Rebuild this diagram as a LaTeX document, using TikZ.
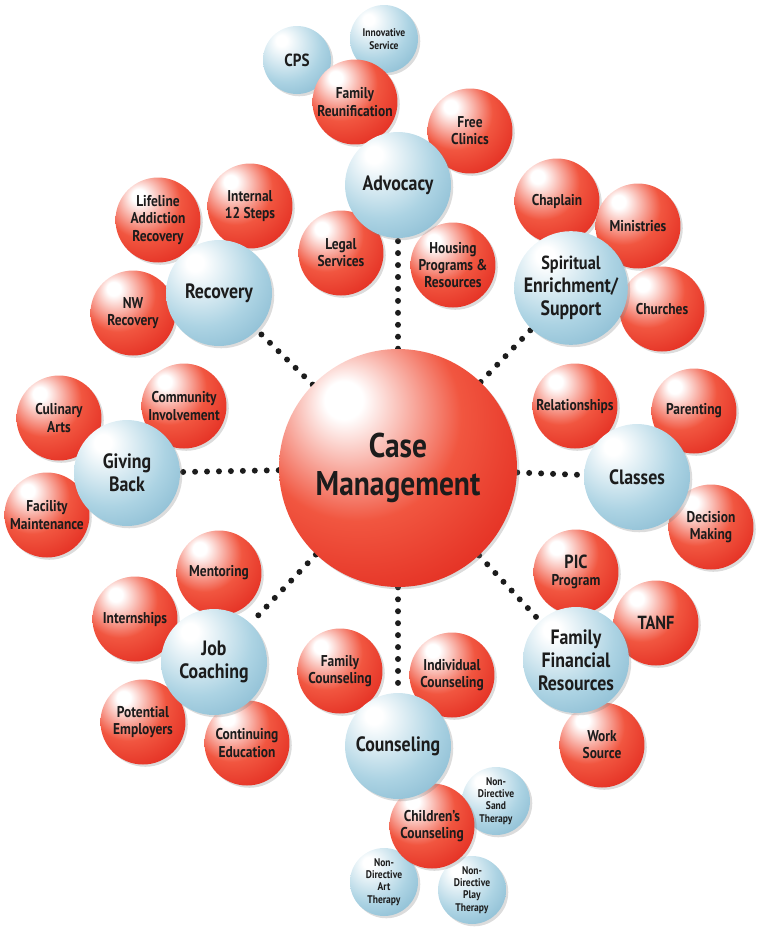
\documentclass[tikz,border=0pt]{standalone}
\usepackage{fontspec}
\newfontfamily\ballfont{PT Sans}[FakeStretch=0.86]
\usetikzlibrary{shadows}
\definecolor{redrim}{RGB}{222,30,22}
\definecolor{redmid}{RGB}{241,86,64}
\definecolor{bluerim}{RGB}{112,170,198}
\definecolor{bluemid}{RGB}{172,211,227}
\definecolor{ink}{RGB}{28,28,28}
\pgfdeclareradialshading{redsphere}{\pgfpoint{-12bp}{15bp}}{%
  color(0bp)=(white); color(4bp)=(white); color(22bp)=(redmid);
  color(44bp)=(redrim); color(80bp)=(redrim)}
\pgfdeclareradialshading{bluesphere}{\pgfpoint{-12bp}{15bp}}{%
  color(0bp)=(white); color(4bp)=(white); color(26bp)=(bluemid);
  color(50bp)=(bluerim); color(80bp)=(bluerim)}
\pgfdeclarelayer{back}
\pgfsetlayers{back,main}

\begin{document}
\begin{tikzpicture}[x = 0.02cm, y = -0.02cm,
		ball/.style = {circle, inner sep = 0pt, align = center, text = ink,
			drop shadow = {opacity = 0.28, shadow xshift = 1.3pt, shadow yshift = -1.3pt}},
		core/.style = {ball, shading = redsphere, minimum size = 4.76cm,
			font = \ballfont\bfseries\fontsize{19.5}{21.5}\selectfont},
		hub/.style = {ball, shading = bluesphere, minimum size = 2.12cm,
			font = \ballfont\bfseries\fontsize{11.8}{13.2}\selectfont},
		leaf/.style = {ball, shading = redsphere, minimum size = 1.7cm,
			font = \ballfont\bfseries\fontsize{8.9}{9.8}\selectfont},
		twig/.style = {ball, shading = bluesphere, minimum size = 1.36cm,
			font = \ballfont\bfseries\fontsize{6.3}{7}\selectfont},
		link/.style = {ink, line width = 3.4pt, line cap = round, dash pattern = on 0pt off 6.8pt}]
		\useasboundingbox (0, 0) rectangle (768, 941);
		%%%%%%%%%%%%% small blue
		\node [twig] (cps) at (297, 60) {\fontsize{10}{11}\selectfont CPS};
		\node [twig] (innov) at (384, 39) {Innovative\\Service};
		\node [twig] (sand) at (496, 801) {Non-\\Directive\\Sand\\Therapy};
		\node [twig] (art) at (384, 882) {Non-\\Directive\\Art\\Therapy};
		\node [twig] (play) at (472, 890) {Non-\\Directive\\Play\\Therapy};
		%%%%%%%%%%%%% red
		\node [leaf] (reunif) at (355, 102) {Family\\Reunification};
		\node [leaf] (clinics) at (470, 131) {Free\\Clinics};
		\node [leaf] (legal) at (341, 253) {Legal\\Services};
		\node [leaf] (housing) at (453, 265) {Housing\\Programs \&\\Resources};
		\node [leaf] (lifeline) at (158, 220) {Lifeline\\Addiction\\Recovery};
		\node [leaf] (steps) at (250, 206) {Internal\\12 Steps};
		\node [leaf] (nw) at (133, 313) {NW\\Recovery};
		\node [leaf] (chaplain) at (557, 201) {Chaplain};
		\node [leaf] (ministries) at (638, 226) {Ministries};
		\node [leaf] (churches) at (662, 309) {Churches};
		\node [leaf] (culinary) at (59, 418) {Culinary\\Arts};
		\node [leaf] (community) at (184, 406) {Community\\Involvement};
		\node [leaf] (facility) at (47, 515) {Facility\\Maintenance};
		\node [leaf] (relation) at (575, 406) {Relationships};
		\node [leaf] (parenting) at (694, 411) {Parenting};
		\node [leaf] (decision) at (711, 527) {Decision\\Making};
		\node [leaf] (mentoring) at (219, 573) {Mentoring};
		\node [leaf] (intern) at (135, 619) {Internships};
		\node [leaf] (employers) at (143, 722) {Potential\\Employers};
		\node [leaf] (education) at (247, 743) {Continuing\\Education};
		\node [leaf] (pic) at (576, 572) {\fontsize{10.8}{11.8}\selectfont PIC\\Program};
		\node [leaf] (tanf) at (656, 623) {\fontsize{10.8}{11.8}\selectfont TANF};
		\node [leaf] (work) at (602, 745) {Work\\Source};
		\node [leaf] (famcoun) at (340, 671) {Family\\Counseling};
		\node [leaf] (indcoun) at (452, 675) {Individual\\Counseling};
		\node [leaf] (children) at (432, 826) {Children’s\\Counseling};
		%%%%%%%%%%%%% blue hubs
		\node [hub] (advocacy) at (398, 185) {Advocacy};
		\node [hub] (recovery) at (219, 293) {Recovery};
		\node [hub] (spirit) at (571, 288) {\fontsize{10.8}{12.2}\selectfont Spiritual\\Enrichment/\\Support};
		\node [hub] (giving) at (127, 473) {Giving\\Back};
		\node [hub] (classes) at (637, 477) {Classes};
		\node [hub] (job) at (214, 662) {Job\\Coaching};
		\node [hub] (finance) at (576, 660) {Family\\Financial\\Resources};
		\node [hub] (counsel) at (398, 746) {Counseling};
		%%%%%%%%%%%%% centre
		\node [core] (case) at (398, 468) {Case\\Management};
		%%%%%%%%%%%%%
		\begin{pgfonlayer}{back}
			\foreach \h in {advocacy, recovery, spirit, giving, classes, job, finance, counsel}
				\draw [link] (case) to (\h);
		\end{pgfonlayer}
\end{tikzpicture}
\end{document}
